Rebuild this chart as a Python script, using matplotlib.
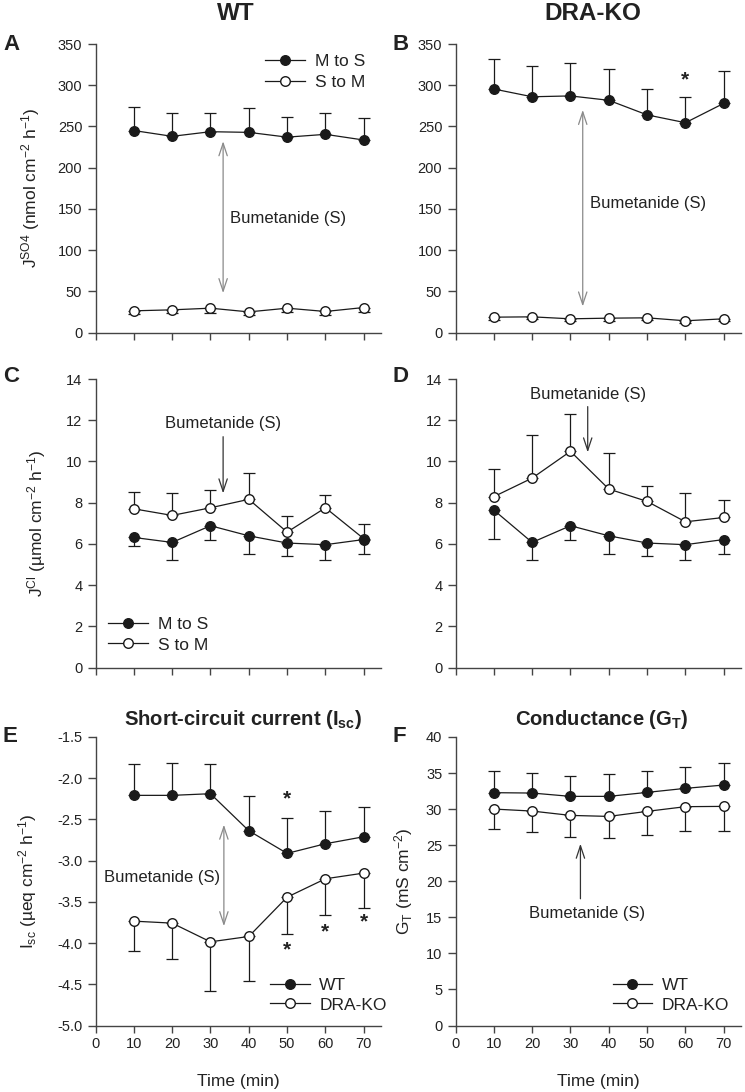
import matplotlib
matplotlib.use("Agg")
import matplotlib.pyplot as plt
import numpy as np

plt.rcParams['font.family'] = ['Liberation Sans', 'DejaVu Sans']
plt.rcParams['mathtext.fontset'] = 'custom'
plt.rcParams['mathtext.rm'] = 'Liberation Sans'
plt.rcParams['mathtext.it'] = 'Liberation Sans:italic'
plt.rcParams['mathtext.bf'] = 'Liberation Sans:bold'
plt.rcParams['mathtext.default'] = 'regular'
plt.rcParams['axes.unicode_minus'] = False

# ---------------- data ----------------
time = [10, 20, 30, 40, 50, 60, 70]

# Panel A: WT sulfate flux
A_ms = [245, 238, 243.6, 242.8, 237, 240.4, 233.5]
A_ms_err = [28, 28, 23, 29, 24, 26, 27]
A_sm = [26.3, 27.5, 29.5, 25, 29.5, 25.5, 30.3]
A_sm_err = [4, 4, 6, 4, 5, 4, 5]

# Panel B: DRA-KO sulfate flux
B_ms = [295.4, 286, 287, 281.7, 264, 254.5, 278]
B_ms_err = [36, 37.7, 40.4, 38, 32, 31.5, 39]
B_sm = [18.6, 19, 16.6, 17.4, 17.8, 14.2, 16.6]
B_sm_err = [3, 3, 3, 3, 3, 3, 3]

# Panel C: WT chloride flux
C_ms = [6.31, 6.07, 6.88, 6.39, 6.04, 5.96, 6.21]
C_ms_err = [0.42, 0.83, 0.70, 0.86, 0.63, 0.72, 0.72]
C_sm = [7.70, 7.38, 7.75, 8.16, 6.57, 7.75, 6.25]
C_sm_err = [0.80, 1.10, 0.84, 1.26, 0.78, 0.63, 0.73]

# Panel D: DRA-KO chloride flux
D_ms = [7.64, 6.07, 6.88, 6.39, 6.04, 5.96, 6.21]
D_ms_err = [1.39, 0.83, 0.70, 0.86, 0.63, 0.72, 0.72]
D_sm = [8.29, 9.19, 10.49, 8.66, 8.06, 7.07, 7.28]
D_sm_err = [1.32, 2.07, 1.81, 1.76, 0.73, 1.41, 0.86]

# Panel E: short-circuit current
E_wt = [-2.208, -2.208, -2.188, -2.637, -2.912, -2.795, -2.710]
E_wt_err = [0.38, 0.388, 0.364, 0.417, 0.425, 0.393, 0.36]
E_ko = [-3.734, -3.758, -3.985, -3.920, -3.443, -3.220, -3.151]
E_ko_err = [0.364, 0.437, 0.591, 0.542, 0.453, 0.441, 0.421]

# Panel F: conductance
F_wt = [32.28, 32.23, 31.77, 31.77, 32.32, 32.88, 33.34]
F_wt_err = [3.0, 2.82, 2.82, 3.05, 3.01, 2.96, 3.10]
F_ko = [30.01, 29.73, 29.13, 28.99, 29.69, 30.34, 30.38]
F_ko_err = [2.73, 2.87, 3.0, 3.0, 3.24, 3.38, 3.37]

xticks = [0, 10, 20, 30, 40, 50, 60, 70]

# ---------------- figure ----------------
fig = plt.figure(figsize=(7.45, 10.92), dpi=100)
W, H = 745, 1092
lefts = [95.5, 455.5]
width = 285.5
tops = [44, 379, 737]
height = 288.5

axes = {}
names = [['A', 'B'], ['C', 'D'], ['E', 'F']]
for r in range(3):
    for c in range(2):
        ax = fig.add_axes([lefts[c] / W, 1 - (tops[r] + height) / H, width / W, height / H])
        axes[names[r][c]] = ax

AX_COL = '#444444'
LINE_COL = '#1a1a1a'
TXT = '#222222'
TICK_FS = 10.5
LAB_FS = 12.5


def style(ax, ylim, ystep, show_xlabels, fmt=None):
    ax.set_xlim(0, 74.5)
    ax.set_ylim(*ylim)
    ax.set_xticks(xticks)
    ax.set_yticks(np.arange(ylim[0], ylim[1] + ystep / 2, ystep))
    for s in ['top', 'right']:
        ax.spines[s].set_visible(False)
    for s in ['left', 'bottom']:
        ax.spines[s].set_color(AX_COL)
        ax.spines[s].set_linewidth(1.0)
    ax.tick_params(axis='both', direction='out', color=AX_COL, width=1.0,
                   labelsize=TICK_FS, labelcolor=TXT)
    ax.tick_params(axis='y', length=6)
    ax.tick_params(axis='x', length=5)
    if not show_xlabels:
        ax.tick_params(axis='x', labelbottom=False)
    if fmt:
        ax.yaxis.set_major_formatter(plt.FormatStrFormatter(fmt))


def series(ax, y, err, filled, up, label):
    yerr = [np.zeros(len(err)), np.array(err)] if up else [np.array(err), np.zeros(len(err))]
    ax.errorbar(time, y, yerr=yerr, fmt='none', ecolor=LINE_COL, elinewidth=0.9,
                capsize=4.5, capthick=0.9, zorder=2)
    ax.plot(time, y, '-o', color=LINE_COL, lw=0.9, markersize=6.9, mew=1.0,
            markerfacecolor=LINE_COL if filled else 'white', markeredgecolor=LINE_COL,
            zorder=4 if filled else 3, label=label)


def legend(ax, x, y, spacing):
    h, l = ax.get_legend_handles_labels()
    order = [l.index(n) for n in sorted(l, key=lambda s: (s not in ('M to S', 'WT')))]
    ax.legend([h[i] for i in order], [l[i] for i in order], loc='upper left',
              bbox_to_anchor=(x, y), frameon=False, fontsize=LAB_FS, borderpad=0,
              borderaxespad=0, handlelength=2.3, handletextpad=0.55, labelspacing=spacing,
              labelcolor=TXT)


GRAY = '#8a8a8a'
DARK = '#333333'
ANN_FS = 12


def dbl_arrow(ax, x, y0, y1, color=GRAY):
    ax.annotate('', xy=(x, y1), xytext=(x, y0),
                arrowprops=dict(arrowstyle='<->,head_length=0.9,head_width=0.3',
                                color=color, lw=0.9, shrinkA=0, shrinkB=0))


def arrow(ax, x, y0, y1, color=DARK):
    ax.annotate('', xy=(x, y1), xytext=(x, y0),
                arrowprops=dict(arrowstyle='->,head_length=0.9,head_width=0.3',
                                color=color, lw=0.9, shrinkA=0, shrinkB=0))


def ylab(ax, text, right_px, left_px):
    ax.set_ylabel(text, fontsize=LAB_FS, color=TXT)
    ax.yaxis.set_label_coords((right_px - left_px) / width, 0.5)


# Panel A
ax = axes['A']
series(ax, A_sm, A_sm_err, False, False, 'S to M')
series(ax, A_ms, A_ms_err, True, True, 'M to S')
style(ax, (0, 350), 50, False)
ylab(ax, r'J$^{SO4}$ (nmol cm$^{-2}$ h$^{-1}$)', 42, 95.5)
legend(ax, 0.594, 0.965, 0.3)
dbl_arrow(ax, 33.3, 47.8, 232)
ax.text(35.2, 138, 'Bumetanide (S)', fontsize=ANN_FS, color=TXT, ha='left', va='center')

# Panel B
ax = axes['B']
series(ax, B_sm, B_sm_err, False, False, 'S to M')
series(ax, B_ms, B_ms_err, True, True, 'M to S')
style(ax, (0, 350), 50, False)
dbl_arrow(ax, 33.2, 31.6, 270)
ax.text(35.0, 156, 'Bumetanide (S)', fontsize=ANN_FS, color=TXT, ha='left', va='center')
ax.text(60, 306, '*', fontsize=15, fontweight='bold', color=TXT, ha='center', va='center')

# Panel C
ax = axes['C']
series(ax, C_sm, C_sm_err, False, True, 'S to M')
series(ax, C_ms, C_ms_err, True, False, 'M to S')
style(ax, (0, 14), 2, False)
ylab(ax, r'J$^{Cl}$ (µmol cm$^{-2}$ h$^{-1}$)', 48, 95.5)
legend(ax, 0.044, 0.175, 0.3)
arrow(ax, 33.3, 11.2, 8.45)
ax.text(33.2, 11.85, 'Bumetanide (S)', fontsize=ANN_FS, color=TXT, ha='center', va='center')

# Panel D
ax = axes['D']
series(ax, D_sm, D_sm_err, False, True, 'S to M')
series(ax, D_ms, D_ms_err, True, False, 'M to S')
style(ax, (0, 14), 2, False)
arrow(ax, 34.5, 12.66, 10.44)
ax.text(34.7, 13.25, 'Bumetanide (S)', fontsize=ANN_FS, color=TXT, ha='center', va='center')

# Panel E
ax = axes['E']
series(ax, E_ko, E_ko_err, False, False, 'DRA-KO')
series(ax, E_wt, E_wt_err, True, True, 'WT')
style(ax, (-5.0, -1.5), 0.5, True, '%.1f')
ylab(ax, r'I$_{sc}$ (µeq cm$^{-2}$ h$^{-1}$)', 39, 95.5)
ax.set_xlabel('Time (min)', fontsize=LAB_FS, color=TXT, labelpad=16)
legend(ax, 0.611, 0.165, 0.25)
dbl_arrow(ax, 33.5, -3.795, -2.564)
ax.text(32.6, -3.208, 'Bumetanide (S)', fontsize=ANN_FS, color=TXT, ha='right', va='center')
for (xx, yy) in [(50, -2.25), (50, -4.08), (60, -3.86), (70, -3.74)]:
    ax.text(xx, yy, '*', fontsize=15, fontweight='bold', color=TXT, ha='center', va='center')

# Panel F
ax = axes['F']
series(ax, F_ko, F_ko_err, False, False, 'DRA-KO')
series(ax, F_wt, F_wt_err, True, True, 'WT')
style(ax, (0, 40), 5, True)
ylab(ax, r'G$_{T}$ (mS cm$^{-2}$)', 415, 455.5)
ax.set_xlabel('Time (min)', fontsize=LAB_FS, color=TXT, labelpad=16)
legend(ax, 0.55, 0.165, 0.25)
arrow(ax, 32.6, 17.57, 25.2)
ax.text(34.3, 15.58, 'Bumetanide (S)', fontsize=ANN_FS, color=TXT, ha='center', va='center')

# row-3 titles
fig.text(243.5 / W, 1 - 725 / H, r'Short-circuit current (I$_{\mathbf{sc}}$)', fontsize=14.6,
         fontweight='bold', color=TXT, ha='center', va='baseline')
fig.text(601.5 / W, 1 - 725 / H, r'Conductance (G$_{\mathbf{T}}$)', fontsize=14.6,
         fontweight='bold', color=TXT, ha='center', va='baseline')

# column titles
fig.text(236 / W, 1 - 14 / H, 'WT', fontsize=17.5, fontweight='bold', color=TXT, ha='center', va='center')
fig.text(592.5 / W, 1 - 14 / H, 'DRA-KO', fontsize=17.5, fontweight='bold', color=TXT, ha='center', va='center')

# panel letters
letters = {'A': (3, 44), 'B': (393, 44), 'C': (3, 377), 'D': (393, 377), 'E': (3, 737), 'F': (393, 737)}
for k, (px, py) in letters.items():
    fig.text(px / W, 1 - py / H, k, fontsize=16, fontweight='bold', color=TXT, ha='left', va='center')

fig.savefig('out.png', dpi=100)
